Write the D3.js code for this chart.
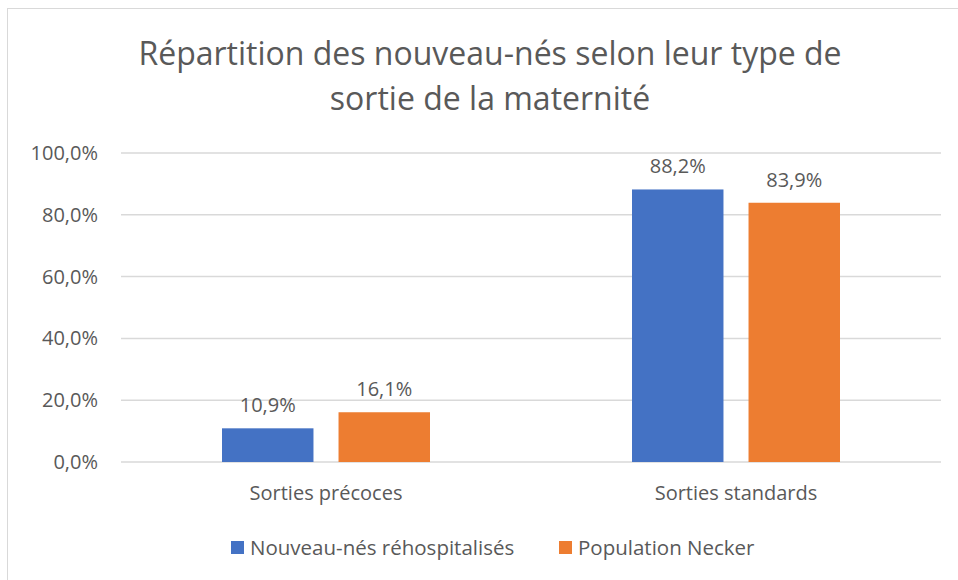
<!DOCTYPE html>
<meta charset="utf-8">
<script src="https://d3js.org/d3.v7.min.js"></script>
<style>
  body { margin: 0; background: #fff; }
  text { font-family: "Open Sans", sans-serif; fill: #595959; }
</style>
<div id="chart"></div>
<script>

// data
const categories = ["Sorties précoces", "Sorties standards"];
const seriesNames = ["Nouveau-nés réhospitalisés", "Population Necker"];
const rehospitalises = [10.9, 88.2];
const necker = [16.1, 83.9];
const yTicks = [0, 20, 40, 60, 80, 100];

const colours = ["#4472C4", "#ED7D31"];

const width = 958, height = 580;
const margin = {top: 153, right: 17, bottom: 118, left: 121};

const svg = d3.select("#chart")
  .append("svg")
    .attr("width", width)
    .attr("height", height);

// chart border
svg.append("rect")
  .attr("x", 7.5).attr("y", 8.5)
  .attr("width", 970).attr("height", 590)
  .attr("fill", "none")
  .attr("stroke", "#d9d9d9");

// title
const title = svg.append("text")
  .attr("x", 490)
  .attr("text-anchor", "middle")
  .style("font-size", "32px");
title.append("tspan").attr("x", 490).attr("y", 65).text("Répartition des nouveau-nés selon leur type de");
title.append("tspan").attr("x", 490).attr("y", 110).text("sortie de la maternité");

const x0 = d3.scaleBand()
  .domain(categories)
  .range([margin.left, width - margin.right]);

const x1 = d3.scaleBand()
  .domain(seriesNames)
  .range([0, 208])
  .paddingInner(0.215);

const y = d3.scaleLinear()
  .domain([0, 100])
  .range([height - margin.bottom, margin.top]);

// gridlines
svg.append("g")
  .selectAll("line")
  .data(yTicks)
  .join("line")
    .attr("x1", margin.left)
    .attr("x2", width - margin.right)
    .attr("y1", d => y(d))
    .attr("y2", d => y(d))
    .attr("stroke", "#d9d9d9")
    .attr("stroke-width", 1.5);

// y axis labels
const fmt = d => d.toFixed(1).replace(".", ",") + "%";
svg.append("g")
  .selectAll("text")
  .data(yTicks)
  .join("text")
    .attr("x", 98)
    .attr("y", d => y(d))
    .attr("dy", "0.35em")
    .attr("text-anchor", "end")
    .style("font-size", "20px")
    .text(fmt);

// bars
const rows = categories.map((c, i) => ({
  cat: c,
  vals: [
    {name: seriesNames[0], value: rehospitalises[i], colour: colours[0]},
    {name: seriesNames[1], value: necker[i], colour: colours[1]}
  ]
}));

const groups = svg.append("g")
  .selectAll("g")
  .data(rows)
  .join("g")
    .attr("transform", d => `translate(${x0(d.cat) + x0.bandwidth() / 2 - 104},0)`);

groups.selectAll("rect")
  .data(d => d.vals)
  .join("rect")
    .attr("x", d => x1(d.name))
    .attr("y", d => y(d.value))
    .attr("width", x1.bandwidth())
    .attr("height", d => y(0) - y(d.value))
    .attr("fill", d => d.colour);

groups.selectAll("text")
  .data(d => d.vals)
  .join("text")
    .attr("x", d => x1(d.name) + x1.bandwidth() / 2)
    .attr("y", d => y(d.value) - 16)
    .attr("text-anchor", "middle")
    .style("font-size", "20px")
    .text(d => d.value.toFixed(1).replace(".", ",") + "%");

// category labels
svg.append("g")
  .selectAll("text")
  .data(categories)
  .join("text")
    .attr("x", d => x0(d) + x0.bandwidth() / 2)
    .attr("y", 500)
    .attr("text-anchor", "middle")
    .style("font-size", "20px")
    .text(d => d);

// legend
const legendX = [231, 559];
const legend = svg.append("g")
  .selectAll("g")
  .data(seriesNames)
  .join("g")
    .attr("transform", (d, i) => `translate(${legendX[i]},541)`);

legend.append("rect")
  .attr("width", 13).attr("height", 13)
  .attr("fill", (d, i) => colours[i]);

legend.append("text")
  .attr("x", 19)
  .attr("y", 7)
  .attr("dy", "0.35em")
  .style("font-size", "20.5px")
  .text(d => d);

</script>
